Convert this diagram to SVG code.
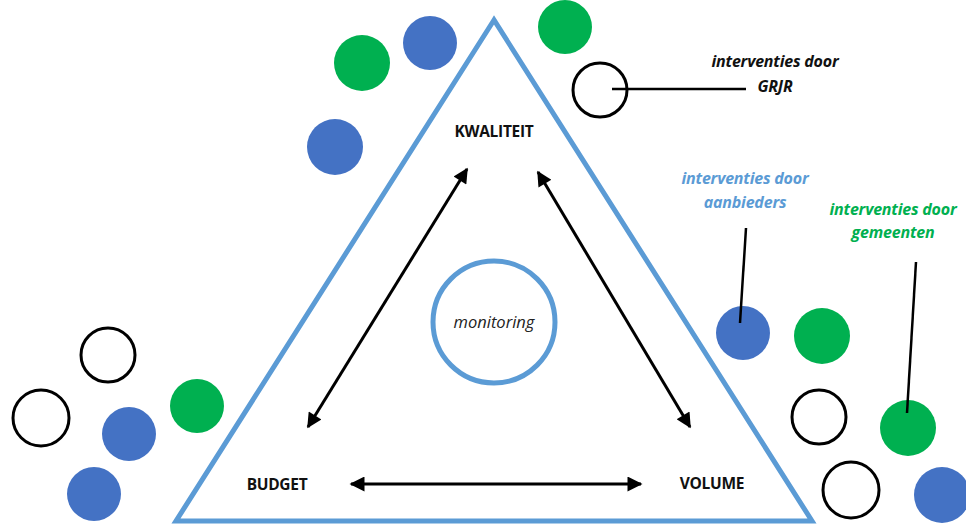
<svg xmlns="http://www.w3.org/2000/svg" width="966" height="527" viewBox="0 0 966 527">
<defs>
<marker id="ah" viewBox="0 0 10 10" refX="9" refY="5" markerWidth="5.5" markerHeight="5" orient="auto-start-reverse" markerUnits="strokeWidth">
<path d="M0,0 L10,5 L0,10 Z" fill="#000"/>
</marker>
<style>
.blue{fill:#4472C4}
.green{fill:#00B050}
.open{fill:none;stroke:#000;stroke-width:3}
.lbl{font-family:"Open Sans","Liberation Sans",sans-serif;font-weight:bold;font-size:15.5px;fill:#111;text-anchor:middle;letter-spacing:-0.3px}
.note{font-family:"Open Sans","Liberation Sans",sans-serif;font-weight:bold;font-style:italic;font-size:16px;text-anchor:middle;letter-spacing:-0.2px}
.arr{stroke:#000;stroke-width:3;fill:none;marker-start:url(#ah);marker-end:url(#ah)}
.lead{stroke:#000;stroke-width:2.5;fill:none}
</style>
</defs>
<rect width="966" height="527" fill="#fff"/>
<g id="triangle">
<polygon points="494,20 176,521 812,521" fill="none" stroke="#5B9BD5" stroke-width="5" stroke-linejoin="miter"/>
</g>
<g id="monitoring">
<circle cx="494" cy="322" r="61" fill="none" stroke="#5B9BD5" stroke-width="5"/>
<text x="494" y="328" font-family="'Open Sans','Liberation Sans',sans-serif" font-style="italic" font-size="16.5" fill="#222" text-anchor="middle">monitoring</text>
</g>
<g id="kwaliteit"><text class="lbl" x="494" y="137">KWALITEIT</text></g>
<g id="budget"><text class="lbl" x="277" y="490">BUDGET</text></g>
<g id="volume"><text class="lbl" x="712" y="489">VOLUME</text></g>
<g id="top-dots">
<circle class="green" cx="362" cy="63" r="28"/>
<circle class="blue" cx="430" cy="43" r="27"/>
<circle class="blue" cx="335" cy="147" r="28"/>
<circle class="green" cx="565" cy="27" r="27"/>
<circle class="open" cx="600" cy="90" r="27"/>
</g>
<g id="left-dots">
<circle class="open" cx="108" cy="355" r="27"/>
<circle class="open" cx="41" cy="418" r="28"/>
<circle class="blue" cx="129" cy="434" r="27"/>
<circle class="green" cx="197" cy="406" r="27"/>
<circle class="blue" cx="94" cy="494" r="27"/>
</g>
<g id="right-dots">
<circle class="blue" cx="743" cy="333" r="27"/>
<circle class="green" cx="822" cy="336" r="28"/>
<circle class="open" cx="819" cy="417" r="27"/>
<circle class="green" cx="908" cy="428" r="28"/>
<circle class="open" cx="851" cy="490" r="28"/>
<circle class="blue" cx="942" cy="495" r="28"/>
</g>
<g id="connectors">
<line class="arr" x1="467" y1="169" x2="308" y2="427"/>
<line class="arr" x1="538" y1="172" x2="690" y2="427"/>
<line class="arr" x1="351" y1="484" x2="641" y2="484"/>
<line class="lead" x1="612" y1="89" x2="746" y2="89"/>
<line class="lead" x1="746" y1="228" x2="740" y2="323"/>
<line class="lead" x1="916" y1="262" x2="907" y2="413"/>
</g>
<g id="note-grjr">
<text class="note" x="775" y="67" fill="#111">interventies door</text>
<text class="note" x="775" y="92" fill="#111">GRJR</text>
</g>
<g id="note-aanbieders">
<text class="note" x="745" y="184" fill="#5B9BD5">interventies door</text>
<text class="note" x="745" y="208" fill="#5B9BD5">aanbieders</text>
</g>
<g id="note-gemeenten">
<text class="note" x="893" y="215" fill="#00B050">interventies door</text>
<text class="note" x="893" y="238" fill="#00B050">gemeenten</text>
</g>
</svg>
